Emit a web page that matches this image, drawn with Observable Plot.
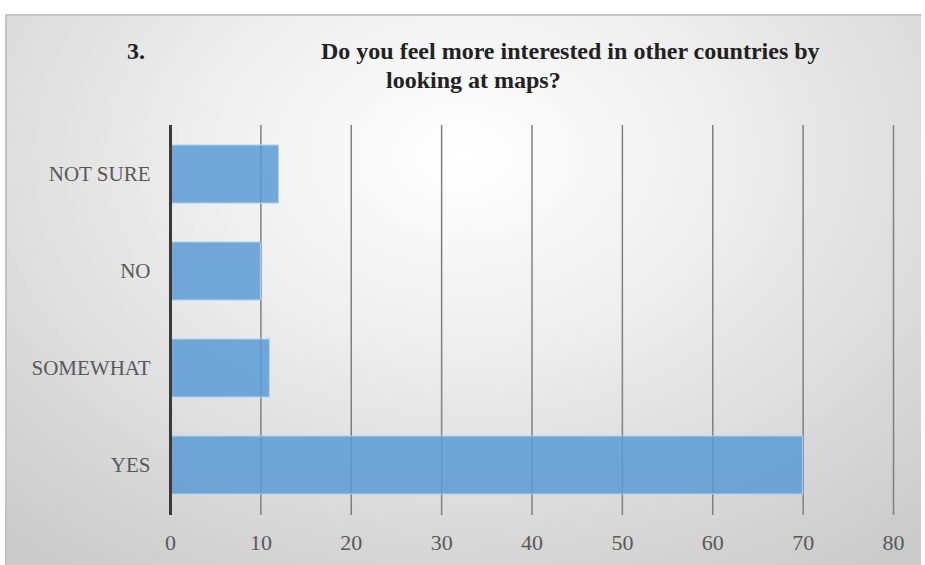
<!DOCTYPE html>
<html>
<head>
<meta charset="utf-8">
<script src="https://cdn.jsdelivr.net/npm/d3@7"></script>
<script src="https://cdn.jsdelivr.net/npm/@observablehq/plot@0.6"></script>
<style>
  html, body { margin: 0; padding: 0; background: #ffffff; }
  #wrap { position: relative; width: 925px; height: 565px; overflow: hidden; }
  #panel {
    position: absolute; left: 5px; top: 14px; width: 916px; height: 560px;
    background: radial-gradient(ellipse 75% 90% at 50% 25%, #ffffff 0%, #f0f0f0 35%, #dcdcdc 70%, #cbcbcb 100%);
    border-top: 2px solid #c4c4c4; border-left: 2px solid #c4c4c4;
    box-sizing: border-box;
  }
  .title { position: absolute; font-family: "Liberation Serif", "Times New Roman", serif; font-weight: bold; font-size: 24px; line-height: 28px; color: #222222; white-space: nowrap; }
  #chart { position: absolute; left: 0; top: 0; }
</style>
</head>
<body>
<div id="wrap">
  <div id="panel"></div>
  <div class="title" id="num" style="left:127px; top:37px;"></div>
  <div class="title" id="t1" style="left:321px; top:37px;"></div>
  <div class="title" id="t2" style="left:386px; top:66px;"></div>
  <div id="chart"></div>
</div>
<script>
const titleNumber = "3.";
const titleLine1 = "Do you feel more interested in other countries by";
const titleLine2 = "looking at maps?";
const categories = ["NOT SURE", "NO", "SOMEWHAT", "YES"];
const values = [12, 10, 11, 70];
const xTicks = [0, 10, 20, 30, 40, 50, 60, 70, 80];

document.getElementById("num").textContent = titleNumber;
document.getElementById("t1").textContent = titleLine1;
document.getElementById("t2").textContent = titleLine2;

const data = categories.map((c, i) => ({category: c, value: values[i]}));

const chart = Plot.plot({
  width: 925,
  height: 565,
  marginLeft: 170,
  marginRight: 32,
  marginTop: 125,
  marginBottom: 50,
  style: {background: "transparent", fontFamily: "'Liberation Serif', 'Times New Roman', serif", color: "#595959"},
  x: {domain: [0, 80], ticks: xTicks},
  y: {domain: categories, paddingInner: 0.4, paddingOuter: 0.2},
  marks: [
    Plot.gridX(xTicks.filter(d => d > 0), {stroke: "#808080", strokeOpacity: 1, strokeWidth: 1.5}),
    Plot.barX(data, {x: "value", y: "category", fill: "#5b9bd5", fillOpacity: 0.85, stroke: "#b4d0ec", strokeWidth: 1}),
    Plot.ruleX([0], {stroke: "#3a3a3a", strokeWidth: 3}),
    Plot.axisX(xTicks, {tickSize: 0, tickPadding: 19, fontSize: 22, fill: "#595959", label: null}),
    Plot.axisY({tickSize: 0, tickPadding: 20, fontSize: 21, fill: "#595959", label: null})
  ]
});
document.getElementById("chart").appendChild(chart);
</script>
</body>
</html>
